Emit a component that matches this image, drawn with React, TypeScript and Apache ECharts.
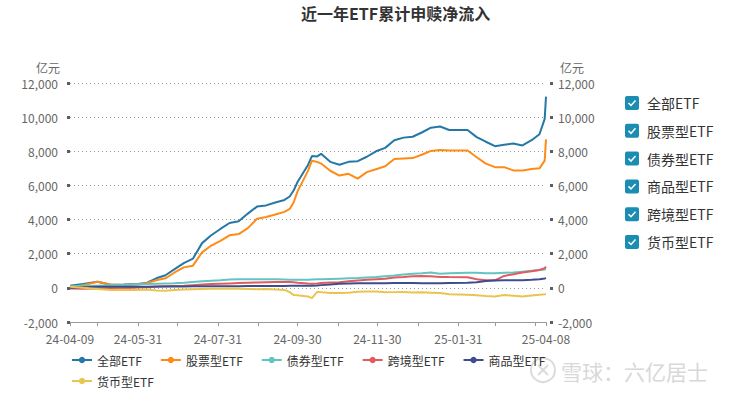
import React, { useEffect, useRef } from 'react';
import * as echarts from 'echarts';

// Dates of the sampled points (calendar dates)
const dates = [
  '2024-04-09', '2024-04-19', '2024-04-30', '2024-05-10', '2024-05-20', '2024-05-31',
  '2024-06-07', '2024-06-14', '2024-06-21', '2024-06-28', '2024-07-05', '2024-07-12',
  '2024-07-19', '2024-07-26', '2024-08-02', '2024-08-09', '2024-08-16', '2024-08-23',
  '2024-08-30', '2024-09-06', '2024-09-13', '2024-09-20', '2024-09-24', '2024-09-27',
  '2024-09-30', '2024-10-08', '2024-10-11', '2024-10-15', '2024-10-18', '2024-10-25',
  '2024-11-01', '2024-11-08', '2024-11-15', '2024-11-22', '2024-11-29', '2024-12-06',
  '2024-12-13', '2024-12-20', '2024-12-27', '2025-01-03', '2025-01-10', '2025-01-17',
  '2025-01-24', '2025-02-07', '2025-02-14', '2025-02-21', '2025-02-28', '2025-03-07',
  '2025-03-14', '2025-03-21', '2025-03-28', '2025-04-03', '2025-04-07', '2025-04-08',
];

// 亿元
const allEtf = [
  120, 220, 360, 180, 200, 230, 300, 560, 740, 1100, 1450, 1710,
  2620, 3080, 3450, 3800, 3900, 4350, 4760, 4830, 5000, 5150, 5350, 5700,
  6200, 7200, 7720, 7700, 7850, 7380, 7210, 7380, 7420, 7680, 8000, 8200,
  8650, 8800, 8850, 9100, 9380, 9450, 9250, 9250, 8830, 8560, 8300, 8380,
  8450, 8340, 8650, 9000, 9900, 11200,
];
const stockEtf = [
  50, 150, 360, 200, 170, 200, 280, 450, 560, 900, 1200, 1300,
  2080, 2480, 2750, 3080, 3150, 3500, 4050, 4150, 4300, 4450, 4620, 5000,
  5650, 6850, 7450, 7380, 7280, 6860, 6580, 6680, 6400, 6780, 6950, 7120,
  7550, 7580, 7600, 7800, 8020, 8080, 8050, 8050, 7650, 7280, 7070, 7070,
  6880, 6880, 6960, 7000, 7450, 8700,
];
const bondEtf = [
  80, 120, 130, 150, 170, 210, 220, 240, 260, 270, 300, 340,
  380, 420, 450, 490, 500, 500, 510, 510, 500, 490, 480, 470,
  470, 480, 490, 500, 500, 520, 540, 560, 580, 610, 640, 680,
  720, 780, 820, 850, 900, 830, 860, 880, 880, 860, 860, 880,
  900, 950, 1000, 1040, 1080, 1120,
];
const crossEtf = [
  -40, -50, -40, -30, -20, 20, 40, 70, 90, 110, 130, 160,
  190, 220, 240, 260, 280, 300, 320, 330, 340, 350, 350, 330,
  300, 250, 240, 260, 290, 320, 330, 380, 430, 470, 500, 530,
  610, 640, 680, 700, 680, 640, 630, 620, 500, 440, 440, 700,
  800, 900, 970, 1050, 1150, 1250,
];
const commodityEtf = [
  0, 30, 60, 70, 70, 70, 70, 80, 80, 80, 80, 90,
  90, 90, 100, 100, 100, 110, 110, 110, 110, 115, 120, 120,
  120, 125, 130, 140, 160, 200, 240, 260, 270, 270, 270, 270,
  280, 290, 290, 270, 270, 270, 280, 300, 330, 400, 430, 440,
  440, 450, 470, 510, 550, 570,
];
const moneyEtf = [
  60, 0, -60, -120, -110, -130, -100, -150, -170, -130, -100, -80,
  -60, -50, -50, -40, -50, -60, -80, -70, -90, -120, -250, -420,
  -430, -500, -600, -230, -250, -300, -300, -280, -230, -210, -220, -260,
  -250, -240, -270, -260, -280, -300, -380, -410, -430, -470, -500, -420,
  -460, -510, -450, -400, -380, -370,
];

const seriesNames = ['全部ETF', '股票型ETF', '债券型ETF', '跨境型ETF', '商品型ETF', '货币型ETF'];
const seriesValues = [allEtf, stockEtf, bondEtf, crossEtf, commodityEtf, moneyEtf];
const seriesColors = ['#2578a6', '#ff8b17', '#63c4c2', '#e15b5f', '#3d4c8c', '#e8c54f'];
// order of the check-box list on the right
const checkboxNames = ['全部ETF', '股票型ETF', '债券型ETF', '商品型ETF', '跨境型ETF', '货币型ETF'];

// x-axis ticks (month ends) and labels
const tickDates = [
  '2024-04-09', '2024-04-30', '2024-05-31', '2024-06-30', '2024-07-31', '2024-08-31',
  '2024-09-30', '2024-10-31', '2024-11-30', '2024-12-31', '2025-01-31', '2025-02-28',
  '2025-03-31', '2025-04-08',
];
const labelDates = ['2024-04-09', '2024-05-31', '2024-07-31', '2024-09-30', '2024-11-30', '2025-01-31', '2025-04-08'];

const yMin = -2000;
const yMax = 12000;
const yInterval = 2000;

const DAY = 86400000;
function utc(s: string): number {
  const [y, m, d] = s.split('-').map(Number);
  return Date.UTC(y, m - 1, d);
}
const t0 = utc(dates[0]);
function dayOf(s: string): number {
  return Math.round((utc(s) - t0) / DAY);
}
function pad(n: number) {
  return n < 10 ? '0' + n : '' + n;
}
function fmtDay(v: number) {
  const d = new Date(t0 + Math.round(v) * DAY);
  return `${pad(d.getUTCFullYear() % 100)}-${pad(d.getUTCMonth() + 1)}-${pad(d.getUTCDate())}`;
}
function fmtNum(v: number) {
  const s = Math.abs(v).toString().replace(/\B(?=(\d{3})+(?!\d))/g, ',');
  return (v < 0 ? '-' : '') + s;
}

const FONT = "'Microsoft YaHei', 'Noto Sans CJK SC', sans-serif";

export default function App() {
  const ref = useRef<HTMLDivElement>(null);
  useEffect(() => {
    if (!ref.current) return;
    const chart = echarts.init(ref.current, undefined, { renderer: 'svg' });

    const checkboxes: any[] = [];
    checkboxNames.forEach((name, i) => {
      const cy = 103 + i * 27.8;
      checkboxes.push({
        type: 'rect',
        shape: { x: 625, y: cy - 7, width: 14, height: 14, r: 2 },
        style: { fill: '#1b8db3' },
      });
      checkboxes.push({
        type: 'polyline',
        shape: { points: [[628.5, cy], [631, cy + 2.5], [635.5, cy - 2.5]] },
        style: { stroke: '#ffffff', lineWidth: 1.5, fill: null },
      });
      checkboxes.push({
        type: 'text',
        x: 647,
        y: cy,
        style: { text: name, fill: '#333', fontSize: 14, fontFamily: FONT, verticalAlign: 'middle' },
      });
    });

    const axisCommon = {
      type: 'value',
      min: yMin,
      max: yMax,
      interval: yInterval,
      offset: 4,
      name: '亿元',
      nameLocation: 'end',
      nameGap: 10,
      axisLine: { show: false },
      axisTick: { show: true, length: 3, lineStyle: { width: 3, color: '#5a5e66' } },
      axisLabel: { color: '#666', fontSize: 12, margin: 8, formatter: (v: number) => fmtNum(v) },
    };

    const legendCommon = {
      left: 66,
      itemWidth: 20,
      itemHeight: 8,
      itemGap: 18,
      textStyle: { color: '#333', fontSize: 12, fontFamily: FONT },
    };

    chart.setOption({
      animation: false,
      textStyle: { fontFamily: FONT },
      title: {
        text: '近一年ETF累计申赎净流入',
        left: 296,
        top: 0,
        textStyle: { fontSize: 16, fontWeight: 'bold', color: '#333', fontFamily: FONT },
      },
      grid: { left: 70, right: 186, top: 83, bottom: 75, containLabel: false },
      legend: [
        { ...legendCommon, data: seriesNames.slice(0, 5), top: 349 },
        { ...legendCommon, data: seriesNames.slice(5), top: 370 },
      ],
      xAxis: {
        type: 'value',
        min: 0,
        max: dayOf(dates[dates.length - 1]),
        axisLine: { show: true, onZero: false, lineStyle: { color: '#999' } },
        axisTick: { show: true, length: 4, lineStyle: { color: '#999' }, customValues: tickDates.map(dayOf) },
        axisLabel: {
          color: '#666',
          fontSize: 12,
          margin: 10,
          customValues: labelDates.map(dayOf),
          formatter: (v: number) => fmtDay(v),
        },
        splitLine: { show: false },
      },
      yAxis: [
        {
          ...axisCommon,
          position: 'left',
          nameTextStyle: { color: '#666', fontSize: 12, align: 'right', padding: [0, 10, 0, 0] },
          splitLine: { show: true, lineStyle: { type: [1, 3], color: '#999' } },
        },
        {
          ...axisCommon,
          position: 'right',
          nameTextStyle: { color: '#666', fontSize: 12, align: 'left', padding: [0, 0, 0, 10] },
          splitLine: { show: false },
        },
      ],
      series: seriesNames.map((name, i) => ({
        name,
        type: 'line',
        yAxisIndex: 0,
        symbol: 'circle',
        symbolSize: 8,
        showSymbol: false,
        color: seriesColors[i],
        lineStyle: { width: 2, color: seriesColors[i] },
        data: dates.map((d, j) => [dayOf(d), seriesValues[i][j]]),
      })),
      graphic: [
        ...checkboxes,
        {
          type: 'circle',
          z: -1,
          shape: { cx: 543, cy: 370, r: 12 },
          style: { fill: 'none', stroke: '#dcdcdc', lineWidth: 2 },
        },
        {
          type: 'line',
          z: -1,
          shape: { x1: 538, y1: 365, x2: 548, y2: 375 },
          style: { stroke: '#dcdcdc', lineWidth: 2 },
        },
        {
          type: 'line',
          z: -1,
          shape: { x1: 548, y1: 365, x2: 538, y2: 375 },
          style: { stroke: '#dcdcdc', lineWidth: 2 },
        },
        {
          type: 'text',
          x: 561,
          y: 371,
          style: {
            text: '雪球：六亿居士',
            fill: '#d8d8d8',
            fontSize: 21,
            fontFamily: FONT,
            verticalAlign: 'middle',
          },
        },
      ],
    });
    return () => chart.dispose();
  }, []);
  return <div ref={ref} style={{ position: 'absolute', left: 0, top: 0, width: 732, height: 397 }} />;
}
